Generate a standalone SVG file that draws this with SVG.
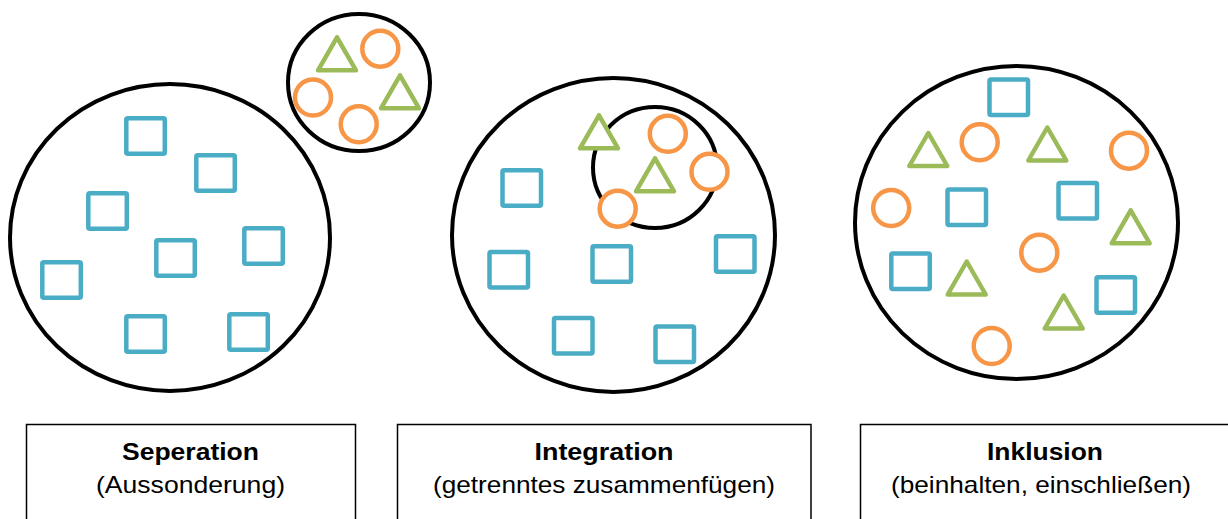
<svg xmlns="http://www.w3.org/2000/svg" xmlns:xlink="http://www.w3.org/1999/xlink" width="1228" height="519" viewBox="0 0 1228 519">
<style>
.ring{fill:none;stroke:#000;stroke-width:4}
.sq{fill:#fff;stroke:#4BACC6;stroke-width:4.5;stroke-linejoin:round}
.tri{fill:#fff;stroke:#9BBB59;stroke-width:4.5;stroke-linejoin:round}
.ci{fill:#fff;stroke:#F79646;stroke-width:4.5}
.box{fill:#fff;stroke:#000;stroke-width:1.5}
.t{font-family:"Liberation Sans",Arial,sans-serif;font-size:24px;fill:#000;text-anchor:middle}
.b{font-weight:bold}
</style>
<defs>
<path id="tr" d="M0,0 L19,33 L-19,33 Z"/>
<rect id="sqr" x="0" y="0" width="38.5" height="35.5" rx="1.5"/>
</defs>
<rect width="1228" height="519" fill="#fff"/>

<g id="separation">
<ellipse class="ring" cx="170" cy="237.5" rx="160" ry="153.5"/>
<g class="sq">
<use xlink:href="#sqr" x="126.3" y="118.3"/>
<use xlink:href="#sqr" x="196.3" y="155.3"/>
<use xlink:href="#sqr" x="88.3" y="193.3"/>
<use xlink:href="#sqr" x="156.3" y="240.3"/>
<use xlink:href="#sqr" x="244.3" y="228.3"/>
<use xlink:href="#sqr" x="42.3" y="262.3"/>
<use xlink:href="#sqr" x="126.3" y="316.3"/>
<use xlink:href="#sqr" x="229.3" y="314.3"/>
</g>
</g>

<g id="separated-group">
<ellipse class="ring" cx="359" cy="82.5" rx="71" ry="68.5"/>
<g class="tri">
<use xlink:href="#tr" x="337" y="37.3"/>
<use xlink:href="#tr" x="400" y="75.3"/>
</g>
<g class="ci">
<circle cx="380.3" cy="48.7" r="18"/>
<circle cx="313" cy="97.5" r="18"/>
<circle cx="358.7" cy="124.3" r="18"/>
</g>
</g>

<g id="integration">
<ellipse class="ring" cx="613.5" cy="235" rx="161.5" ry="157"/>
<ellipse class="ring" cx="655" cy="167.5" rx="62" ry="60.5"/>
<g class="sq">
<use xlink:href="#sqr" x="502.5" y="170.3"/>
<use xlink:href="#sqr" x="489.5" y="252"/>
<use xlink:href="#sqr" x="592.5" y="246.3"/>
<use xlink:href="#sqr" x="716" y="236.3"/>
<use xlink:href="#sqr" x="554" y="318"/>
<use xlink:href="#sqr" x="655.5" y="326.5"/>
</g>
<g class="tri">
<use xlink:href="#tr" x="599" y="115.3"/>
<use xlink:href="#tr" x="655" y="158.3"/>
</g>
<g class="ci">
<circle cx="667.8" cy="133.8" r="18"/>
<circle cx="709.5" cy="171.8" r="18"/>
<circle cx="617.7" cy="208.7" r="18"/>
</g>
</g>

<g id="inklusion">
<ellipse class="ring" cx="1016.5" cy="222.5" rx="161.5" ry="156.5"/>
<g class="sq">
<use xlink:href="#sqr" x="989.5" y="79.5"/>
<use xlink:href="#sqr" x="947.5" y="189.5"/>
<use xlink:href="#sqr" x="1058.5" y="183"/>
<use xlink:href="#sqr" x="891.3" y="253.5"/>
<use xlink:href="#sqr" x="1096.5" y="277.3"/>
</g>
<g class="tri">
<use xlink:href="#tr" x="928.3" y="133"/>
<use xlink:href="#tr" x="1047.3" y="127.5"/>
<use xlink:href="#tr" x="1130.7" y="210.3"/>
<use xlink:href="#tr" x="966.7" y="261.5"/>
<use xlink:href="#tr" x="1063.7" y="295.5"/>
</g>
<g class="ci">
<circle cx="979.7" cy="142.3" r="18"/>
<circle cx="1129" cy="150.7" r="18"/>
<circle cx="891.2" cy="208" r="18"/>
<circle cx="1039.3" cy="252.7" r="18"/>
<circle cx="991.7" cy="346" r="18"/>
</g>
</g>

<g id="label-separation">
<rect class="box" x="26.5" y="424.5" width="329" height="110"/>
<text class="t b" x="190.5" y="460" textLength="137" lengthAdjust="spacingAndGlyphs">Seperation</text>
<text class="t" x="190.5" y="493" textLength="189" lengthAdjust="spacingAndGlyphs">(Aussonderung)</text>
</g>

<g id="label-integration">
<rect class="box" x="397.5" y="424.5" width="413.5" height="110"/>
<text class="t b" x="604" y="460" textLength="139" lengthAdjust="spacingAndGlyphs">Integration</text>
<text class="t" x="604" y="493" textLength="342" lengthAdjust="spacingAndGlyphs">(getrenntes zusammenfügen)</text>
</g>

<g id="label-inklusion">
<rect class="box" x="860.5" y="424.5" width="380" height="110"/>
<text class="t b" x="1045" y="460" textLength="116" lengthAdjust="spacingAndGlyphs">Inklusion</text>
<text class="t" x="1041" y="493" textLength="300" lengthAdjust="spacingAndGlyphs">(beinhalten, einschließen)</text>
</g>
</svg>
